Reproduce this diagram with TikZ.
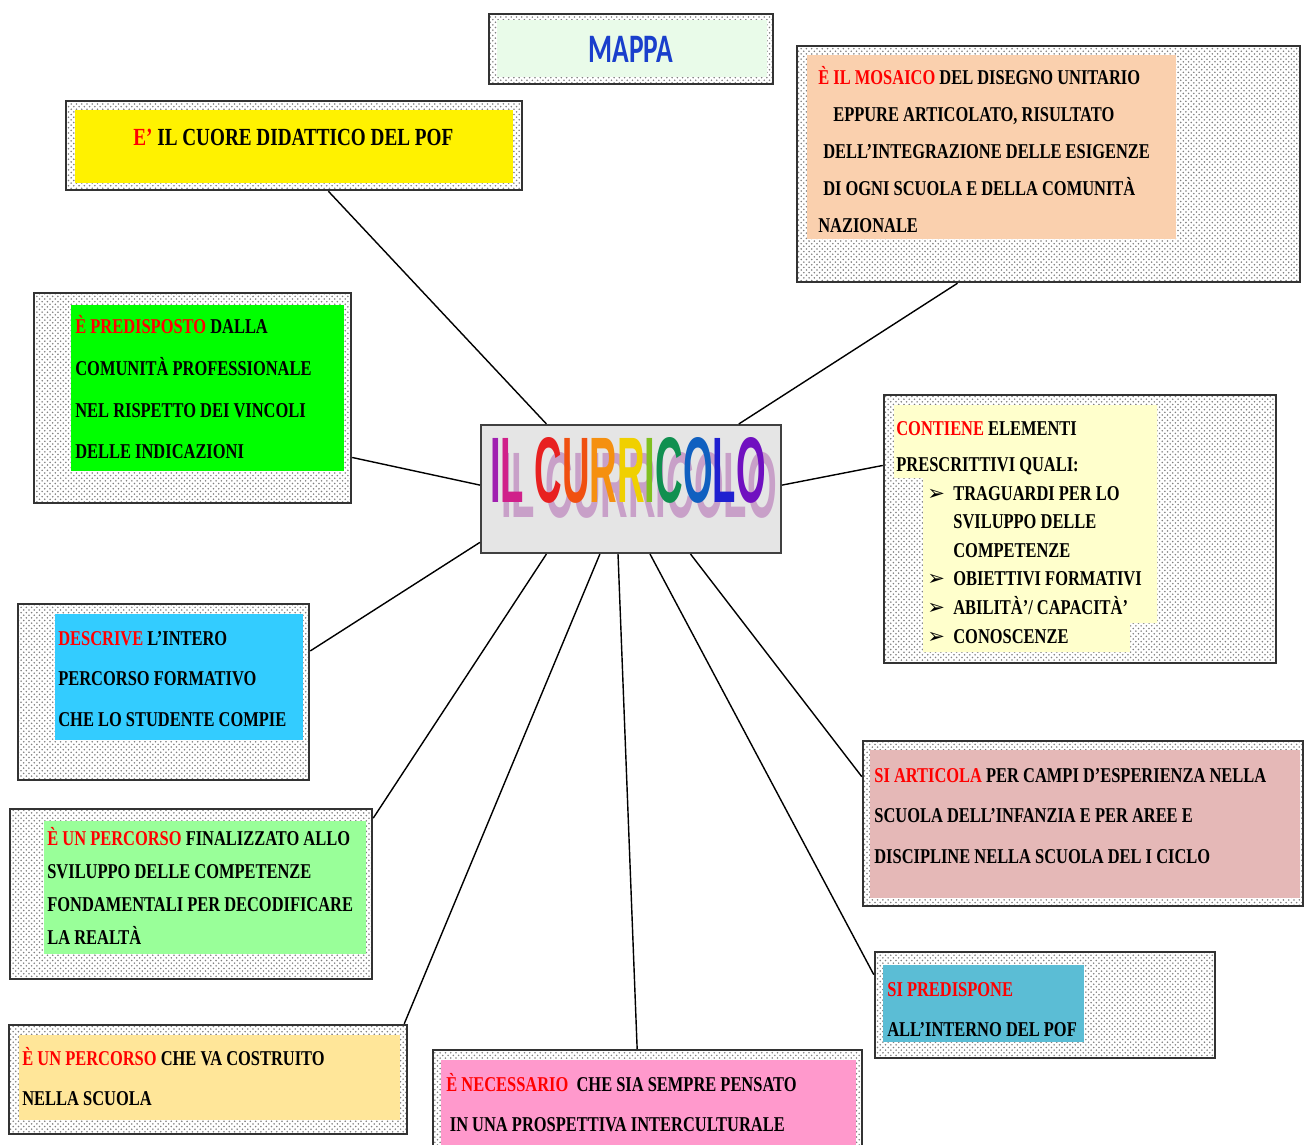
\documentclass[tikz,border=0pt]{standalone}
\usepackage{fontspec}
\setmainfont{Liberation Serif}
\newfontfamily\boxfont[FakeStretch=0.78]{Liberation Serif}
\newfontfamily\titlefont[FakeStretch=0.41]{Liberation Sans}
\newfontfamily\mapfont[FakeStretch=0.68]{Carlito}
\newfontfamily\symfont{DejaVu Sans}
\usetikzlibrary{patterns,fit,calc}

\definecolor{menta}{HTML}{E9FBE9}
\definecolor{pesca}{HTML}{FAD0AE}
\definecolor{crema}{HTML}{FFFFCC}
\definecolor{azzurro}{HTML}{33CCFF}
\definecolor{verdino}{HTML}{99FF99}
\definecolor{arancio}{HTML}{FFE699}
\definecolor{rosa}{HTML}{FF99CC}
\definecolor{ciano}{HTML}{5BBDD5}
\definecolor{rosato}{HTML}{E5B8B7}
\definecolor{blumappa}{HTML}{1A3FCC}
\definecolor{ca}{HTML}{A020B0}
\definecolor{cb}{HTML}{D0208A}
\definecolor{cc}{HTML}{E82020}
\definecolor{cd}{HTML}{F05010}
\definecolor{ce}{HTML}{F59010}
\definecolor{cf}{HTML}{F0D000}
\definecolor{cg}{HTML}{80C020}
\definecolor{ch}{HTML}{109050}
\definecolor{ci}{HTML}{1060C0}
\definecolor{cj}{HTML}{2020D0}
\definecolor{ck}{HTML}{7010C0}

\newcommand\rosso[1]{\textcolor{red}{#1}}
\newcommand\righe[1]{\begin{tabular}[t]{@{}l@{}}#1\end{tabular}}
\newcommand\freccia{\makebox[14.8pt][l]{\symfont ➢}}

\tikzset{
  cornice/.style={draw=black!80, line width=1.4pt, inner sep=0pt,
    pattern=crosshatch dots, pattern color=black!50},
  testo/.style={anchor=base west, inner sep=0pt,
    font=\boxfont\bfseries\fontsize{12pt}{#1}\selectfont},
  ramo/.style={line width=0.8pt}
}

\begin{document}
\begin{tikzpicture}[x=0.02cm, y=-0.02cm]
  \useasboundingbox (0,0) rectangle (1304,1145);

  % cornici
  \node[cornice, fit={(489,14) (773,84)}] (mappa) {};
  \node[cornice, fit={(66,101) (522,190)}] (cuore) {};
  \node[cornice, fit={(797,46) (1300,282)}] (mosaico) {};
  \node[cornice, fit={(34,293) (351,503)}] (predisposto) {};
  \node[cornice, fit={(884,395) (1276,663)}] (contiene) {};
  \node[cornice, fit={(18,604) (309,780)}] (descrive) {};
  \node[cornice, fit={(10,809) (372,979)}] (finalizzato) {};
  \node[cornice, fit={(9,1025) (407,1134)}] (costruito) {};
  \node[cornice, fit={(433,1050) (862,1152)}] (necessario) {};
  \node[cornice, fit={(875,952) (1215,1058)}] (predispone) {};
  \node[cornice, fit={(863,741) (1303,906)}] (articola) {};
  \node[draw=black!75, line width=1.2pt, fill=black!10, inner sep=0pt,
    fit={(481,425) (781,553)}] (cur) {};

  % sfondi colorati
  \fill[menta] (497,20) rectangle (767,77);
  \fill[yellow] (75,110) rectangle (513,183);
  \fill[pesca] (807,55) rectangle (1176,239);
  \fill[green] (71,305) rectangle (344,471);
  \fill[crema] (894,405) -- (1157,405) -- (1157,623) -- (1130,623)
    -- (1130,652) -- (923,652) -- (923,478) -- (894,478) -- cycle;
  \fill[azzurro] (55,614) rectangle (303,740);
  \fill[verdino] (44,821) rectangle (366,954);
  \fill[arancio] (19,1035) rectangle (400,1120);
  \fill[rosa] (441,1060) rectangle (856,1145);
  \fill[ciano] (883,965) rectangle (1084,1042);
  \fill[rosato] (870,750) rectangle (1300,898);

  % testi
  \node[anchor=base, text=blumappa, font=\mapfont\bfseries\fontsize{23pt}{26pt}\selectfont]
    (tmappa) at (631,63) {MAPPA};
  \node[testo=20pt, font=\boxfont\bfseries\fontsize{14pt}{20pt}\selectfont]
    (tcuore) at (133,146) {\rosso{E’} IL CUORE DIDATTICO DEL POF};
  \node[testo=21pt] (tmosaico) at (818,85) {\righe{\rosso{È IL MOSAICO} DEL DISEGNO UNITARIO\\
    \hspace{8.5pt}EPPURE ARTICOLATO, RISULTATO\\
    \hspace{2.8pt}DELL’INTEGRAZIONE DELLE ESIGENZE\\
    \hspace{2.8pt}DI OGNI SCUOLA E DELLA COMUNITÀ\\
    NAZIONALE}};
  \node[testo=23.7pt] (tpredisposto) at (75,334) {\righe{\rosso{È PREDISPOSTO} DALLA\\
    COMUNITÀ PROFESSIONALE\\NEL RISPETTO DEI VINCOLI\\DELLE INDICAZIONI}};
  \node[testo=21pt] (tcontiene) at (896,435) {\righe{\rosso{CONTIENE} ELEMENTI\\
    PRESCRITTIVI QUALI:}};
  \node[testo=16.3pt] (tlista) at (927,500) {\righe{\freccia TRAGUARDI PER LO\\
    \hspace{14.8pt}SVILUPPO DELLE\\\hspace{14.8pt}COMPETENZE\\
    \freccia OBIETTIVI FORMATIVI\\\freccia ABILITÀ’/ CAPACITÀ’\\\freccia CONOSCENZE}};
  \node[testo=23.3pt] (tdescrive) at (58,645) {\righe{\rosso{DESCRIVE} L’INTERO\\
    PERCORSO FORMATIVO\\CHE LO STUDENTE COMPIE}};
  \node[testo=18.8pt] (tfinalizzato) at (47,845) {\righe{\rosso{È UN PERCORSO} FINALIZZATO ALLO\\
    SVILUPPO DELLE COMPETENZE\\FONDAMENTALI PER DECODIFICARE\\LA REALTÀ}};
  \node[testo=22.8pt] (tcostruito) at (22,1065) {\righe{\rosso{È UN PERCORSO} CHE VA COSTRUITO\\
    NELLA SCUOLA}};
  \node[testo=23.3pt] (tnecessario) at (446,1091) {\righe{\rosso{È NECESSARIO}\ \ CHE SIA SEMPRE PENSATO\\
    \hspace{2pt}IN UNA PROSPETTIVA INTERCULTURALE}};
  \node[testo=23.3pt] (tpredispone) at (887,996) {\righe{\rosso{SI PREDISPONE}\\
    ALL’INTERNO DEL POF}};
  \node[testo=23.3pt] (tarticola) at (874,782) {\righe{\rosso{SI ARTICOLA} PER CAMPI D’ESPERIENZA NELLA\\
    SCUOLA DELL’INFANZIA E PER AREE E\\DISCIPLINE NELLA SCUOLA DEL I CICLO}};

  % titolo centrale
  \node[anchor=base, text=violet!70, opacity=.45,
    font=\titlefont\bfseries\fontsize{53pt}{60pt}\selectfont] (ombra) at (639,517) {IL CURRICOLO};
  \node[anchor=base, font=\titlefont\bfseries\fontsize{53pt}{60pt}\selectfont] (titolo) at (628,502)
    {\textcolor{ca}{I}\textcolor{cb}{L} \textcolor{cc}{C}\textcolor{cd}{U}\textcolor{ce}{R}%
     \textcolor{cf}{R}\textcolor{cg}{I}\textcolor{ch}{C}\textcolor{ci}{O}\textcolor{cj}{L}\textcolor{ck}{O}};

  % rami
  \draw[ramo] ($(cur.north west)!.22!(cur.north east)$) -- ($(cuore.south west)!.575!(cuore.south east)$);
  \draw[ramo] ($(cur.north west)!.857!(cur.north east)$) -- ($(mosaico.south west)!.32!(mosaico.south east)$);
  \draw[ramo] ($(cur.north west)!.47!(cur.south west)$) -- ($(predisposto.north east)!.78!(predisposto.south east)$);
  \draw[ramo] ($(cur.north east)!.47!(cur.south east)$) -- ($(contiene.north west)!.265!(contiene.south west)$);
  \draw[ramo] ($(cur.north west)!.91!(cur.south west)$) -- ($(descrive.north east)!.27!(descrive.south east)$);
  \draw[ramo] ($(cur.south west)!.22!(cur.south east)$) -- ($(finalizzato.north east)!.06!(finalizzato.south east)$);
  \draw[ramo] ($(cur.south west)!.397!(cur.south east)$) -- ($(costruito.north west)!.99!(costruito.north east)$);
  \draw[ramo] ($(cur.south west)!.457!(cur.south east)$) -- ($(necessario.north west)!.476!(necessario.north east)$);
  \draw[ramo] ($(cur.south west)!.563!(cur.south east)$) -- ($(predispone.north west)!.22!(predispone.south west)$);
  \draw[ramo] ($(cur.south west)!.697!(cur.south east)$) -- ($(articola.north west)!.22!(articola.south west)$);
\end{tikzpicture}
\end{document}
